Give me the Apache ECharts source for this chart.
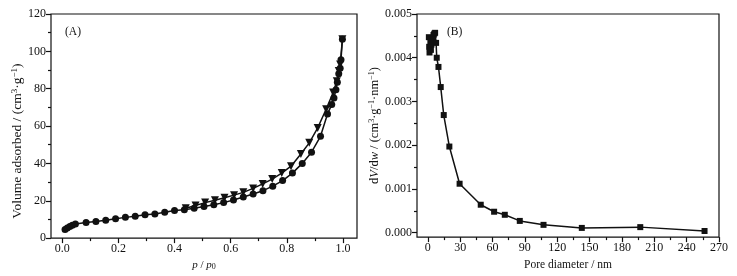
<!DOCTYPE html>
<html>
<head>
<meta charset="utf-8">
<script src="https://cdn.jsdelivr.net/npm/echarts@6/dist/echarts.min.js"></script>
<style>
html, body { margin: 0; background: #fff; }
#chart { width: 737px; height: 276px; }
</style>
</head>
<body>
<div id="chart"></div>
<script>
// (A) N2 isotherm, adsorption branch (circles)
const adsP = [0.010, 0.018, 0.027, 0.036, 0.047, 0.085, 0.12, 0.155, 0.19, 0.225, 0.26, 0.295, 0.33, 0.365, 0.40,
  0.435, 0.47, 0.505, 0.54, 0.575, 0.61, 0.645, 0.68, 0.715, 0.75, 0.785, 0.82, 0.855, 0.888, 0.92,
  0.945, 0.96, 0.968, 0.975, 0.98, 0.985, 0.99, 0.993, 0.998]
const adsV = [4.6, 5.4, 6.2, 6.9, 7.5, 8.3, 8.9, 9.6, 10.4, 11.1, 11.7, 12.5, 12.9, 13.8, 14.8,
  15.2, 16.0, 16.9, 17.9, 19.0, 20.4, 22.0, 23.6, 25.4, 27.8, 30.8, 34.8, 40.0, 46.0, 54.5,
  66.5, 71.5, 75.0, 79.5, 83.5, 88.0, 91.0, 95.5, 106.5]
// (A) desorption branch (down triangles)
const desP = [0.998, 0.99, 0.985, 0.978, 0.965, 0.94, 0.91, 0.88, 0.85, 0.815, 0.782, 0.748, 0.714,
  0.68, 0.645, 0.612, 0.578, 0.544, 0.509, 0.475, 0.44]
const desV = [106.5, 93.0, 89.5, 84.0, 78.0, 69.0, 59.0, 51.0, 45.0, 38.5, 34.8, 31.6, 29.0,
  26.6, 24.5, 23.0, 21.6, 20.3, 19.0, 17.5, 16.0]
// (B) pore size distribution
const poreD = [1.0, 1.3, 1.6, 2.0, 2.4, 2.9, 3.4, 4.0, 4.6, 5.3, 6.0, 6.8, 7.7, 8.3, 9.9, 12.0, 14.8, 20.0,
  29.5, 49.1, 61.5, 71.4, 85.3, 107.3, 142.8, 197.0, 256.6]
const dVdw = [0.00447, 0.00425, 0.00412, 0.00420, 0.00436, 0.00418, 0.00430, 0.00442, 0.00436, 0.00452, 0.00455, 0.00457,
  0.00434, 0.00400, 0.00379, 0.00333, 0.00269, 0.00197, 0.00112, 0.00064, 0.00048, 0.00041, 0.00027, 0.00018,
  0.000110, 0.000128, 0.000040]
// tick labels
const xTicksA = [0, 0.2, 0.4, 0.6, 0.8, 1.0]
const yTicksA = [0, 20, 40, 60, 80, 100, 120]
const xTicksB = [0, 30, 60, 90, 120, 150, 180, 210, 240, 270]
const yTicksB = [0, 0.001, 0.002, 0.003, 0.004, 0.005]

const font = '"Liberation Serif", "Times New Roman", serif'
const black = '#111'

function minors(majors) {
  const out = []
  for (let i = 0; i < majors.length - 1; i++) out.push((majors[i] + majors[i + 1]) / 2)
  return out
}

function richStyles(size) {
  return {
    t: { color: black, fontFamily: font, fontSize: size },
    i: { color: black, fontFamily: font, fontSize: size, fontStyle: 'italic' },
    sup: { color: black, fontFamily: font, fontSize: Math.round(size * 0.65), verticalAlign: 'top' },
    sub: { color: black, fontFamily: font, fontSize: Math.round(size * 0.7), verticalAlign: 'bottom' }
  }
}

// returns [major axis, minor-tick axis]
function axisPair(grid, pos, min, max, ticks, digits, name, nameGap, nameSize, namePad) {
  const major = {
    type: 'value', gridIndex: grid, position: pos, min: min, max: max,
    name: name, nameLocation: 'middle', nameGap: nameGap,
    nameTextStyle: {
      color: black, fontFamily: font, fontSize: nameSize,
      padding: namePad || 0,
      rich: richStyles(nameSize)
    },
    axisLine: { show: false, onZero: false },
    splitLine: { show: false },
    axisTick: { show: true, inside: false, length: 5, customValues: ticks, lineStyle: { color: black, width: 1.2 } },
    axisLabel: {
      customValues: ticks, color: black, fontFamily: font, fontSize: 12, margin: 5,
      formatter: v => Number(v).toFixed(digits)
    }
  }
  const minor = {
    type: 'value', gridIndex: grid, position: pos, min: min, max: max,
    axisLine: { show: false, onZero: false }, splitLine: { show: false },
    axisLabel: { show: false },
    axisTick: { show: true, inside: false, length: 3, customValues: minors(ticks), lineStyle: { color: black, width: 1.2 } }
  }
  return [major, minor]
}

const chart = echarts.init(document.getElementById('chart'), null, { renderer: 'canvas' })

const xA = axisPair(0, 'bottom', -0.04, 1.05, xTicksA, 1, '{i|p}{t| / }{i|p}{sub|0}', 20, 11)
const yA = axisPair(0, 'left', 0, 120, yTicksA, 0, '{t|Volume adsorbed / (cm}{sup|3}{t|·g}{sup|−1}{t|)}', 23, 13.5, [0, 30, 0, 0])
const xB = axisPair(1, 'bottom', -10, 270, xTicksB, 0, '{t|Pore diameter / nm}', 20, 11.5)
const yB = axisPair(1, 'left', -0.0001, 0.005, yTicksB, 3, '{t|d}{i|V}{t|/d}{i|w}{t| / (cm}{sup|3}{t|·g}{sup|−1}{t|·nm}{sup|−1}{t|)}', 33, 12.5)

const lineStyle = { color: black, width: 1.5 }

chart.setOption({
  animation: false,
  backgroundColor: '#fff',
  textStyle: { fontFamily: font },
  grid: [
    { left: 51, top: 14, width: 306, height: 225, show: true, borderColor: black, borderWidth: 1.2 },
    { left: 417, top: 14, width: 302, height: 225, show: true, borderColor: black, borderWidth: 1.2 }
  ],
  xAxis: [xA[0], xA[1], xB[0], xB[1]],
  yAxis: [yA[0], yA[1], yB[0], yB[1]],
  graphic: [
    { type: 'text', left: 65, top: 26, style: { text: '(A)', fontFamily: font, fontSize: 11.5, fill: black } },
    { type: 'text', left: 447, top: 26, style: { text: '(B)', fontFamily: font, fontSize: 11.5, fill: black } }
  ],
  series: [
    {
      name: 'adsorption', type: 'line', xAxisIndex: 0, yAxisIndex: 0,
      data: adsP.map((p, i) => [p, adsV[i]]),
      symbol: 'circle', symbolSize: 7, showAllSymbol: true,
      lineStyle: lineStyle, itemStyle: { color: black }
    },
    {
      name: 'desorption', type: 'line', xAxisIndex: 0, yAxisIndex: 0,
      data: desP.map((p, i) => [p, desV[i]]),
      symbol: 'triangle', symbolRotate: 180, symbolSize: 8, showAllSymbol: true,
      lineStyle: lineStyle, itemStyle: { color: black }
    },
    {
      name: 'psd', type: 'line', xAxisIndex: 2, yAxisIndex: 2,
      data: poreD.map((d, i) => [d, dVdw[i]]),
      symbol: 'rect', symbolSize: 6, showAllSymbol: true,
      lineStyle: lineStyle, itemStyle: { color: black }
    }
  ]
})
</script>
</body>
</html>
